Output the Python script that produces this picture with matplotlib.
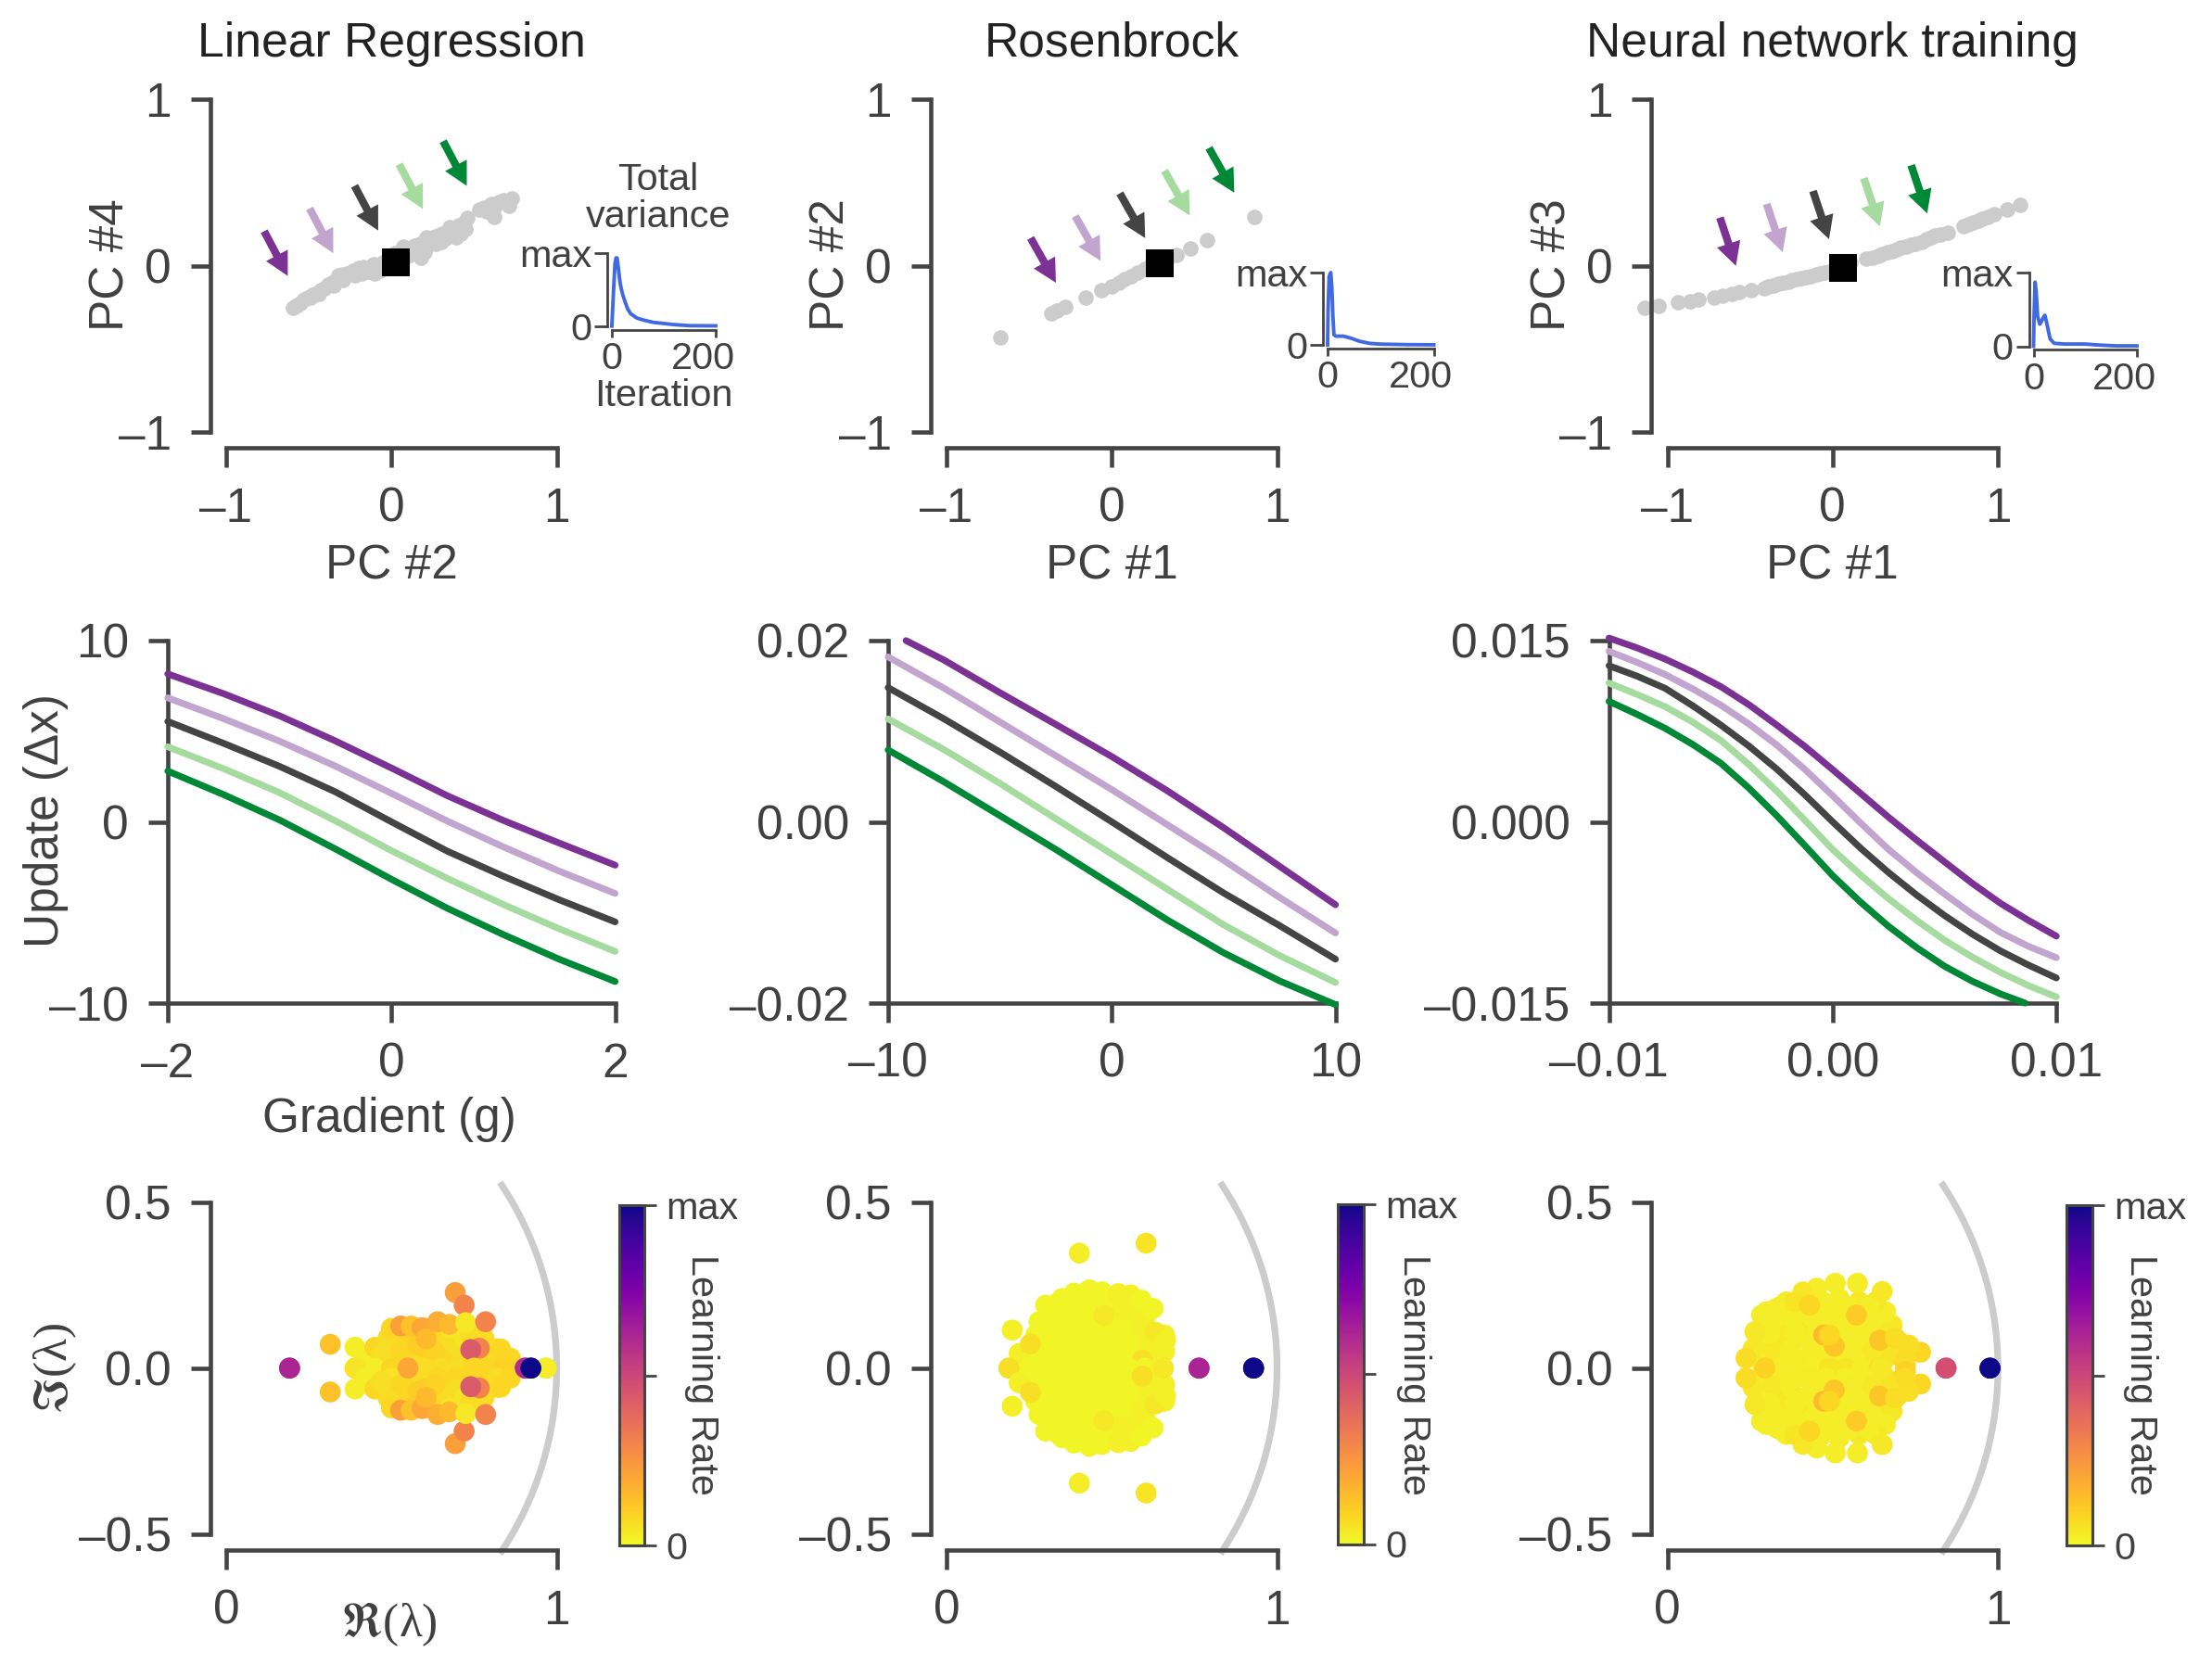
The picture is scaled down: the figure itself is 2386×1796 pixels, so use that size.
import matplotlib
matplotlib.use("Agg")
import matplotlib.pyplot as plt
import matplotlib.transforms as mtransforms
from matplotlib.cm import ScalarMappable
from matplotlib.colors import Normalize
import numpy as np

W, H, DPI = 2386, 1796, 200
DARK = "#444444"
TXT = "#404040"
plt.rcParams["font.family"] = ["Liberation Sans", "DejaVu Sans"]
plt.rcParams["font.size"] = 18.5
plt.rcParams["text.color"] = TXT
plt.rcParams["axes.labelcolor"] = TXT

# ---------- data ----------
titles = ["Linear Regression", "Rosenbrock", "Neural network training"]
pc_xlabels = ["PC #2", "PC #1", "PC #1"]
pc_ylabels = ["PC #4", "PC #2", "PC #3"]
line_colors = ["#7b3294", "#c2a5cf", "#444444", "#a6dba0", "#008837"]

lr_x = [-.595,-.58,-.57,-.55,-.53,-.505,-.49,-.48,-.46,-.43,-.405,-.38,-.36,-.34,-.32,-.30,-.27,-.25,-.23,-.2,-.17,-.14,-.1,-.08,-.05,-.02,0,.03,.06,.09,.12,.15,.18,.18,.2,.22,.25,.27,.3,.33,.36,.39,.42,.45,.46,.533,.562,.62,.606,.65,.577,.62,.68,.729,.709,
        -.44,-.35,-.29,-.22,-.15,-.12,-.06,-.03,.01,.05,.1,.14,.17,.21,.24,.28,.31,.35,.38,.41,.44,-.18,-.11,-.07,-.04,.02,.07]
lr_y = [-.255,-.245,-.235,-.225,-.205,-.195,-.19,-.175,-.17,-.15,-.135,-.115,-.105,-.09,-.06,-.055,-.045,-.05,-.03,-.015,-.01,-.035,-.05,0,.02,.05,.06,.03,.09,.1,.07,.1,.05,.09,.08,.12,.17,.13,.14,.165,.2,.17,.195,.22,.285,.337,.349,.292,.371,.383,.326,.35,.394,.405,.36,
        -.17,-.12,-.085,-.06,-.025,.0,-.02,.03,.02,.07,.06,.12,.13,.17,.15,.18,.19,.23,.22,.24,.26,-.05,.01,-.03,.0,.075,.115]
rb_x = [-.673,-.364,-.332,-.284,-.156,-.065,0,.043,.077,.114,.156,.2,.241,.284,.34,.389,.477,.577,.864]
rb_y = [-.43,-.289,-.271,-.251,-.194,-.148,-.123,-.103,-.08,-.062,-.043,-.02,.007,.03,.048,.064,.105,.155,.292]
nn_x = [-1.14,-1.056,-.938,-.86,-.81,-.714,-.664,-.613,-.566,-.49,-.412,-.356,-.3,-.244,-.188,-.132,-.076,-.02,.036,.106,.204,.275,.331,.387,.443,.499,.541,.597,.653,.695,.793,.849,.905,.975,1.053,1.132,-.39,-.33,-.27,-.22,-.16,-.1,-.05,.24,.3,.36,.41,.47,.57,.62,.82,.88,.94]
nn_y = [-.255,-.244,-.223,-.214,-.205,-.191,-.182,-.171,-.159,-.148,-.134,-.118,-.103,-.089,-.075,-.062,-.048,-.034,-.011,.018,.041,.059,.08,.098,.116,.132,.144,.171,.189,.2,.235,.257,.28,.308,.337,.364,-.128,-.11,-.096,-.082,-.068,-.055,-.041,.05,.07,.089,.107,.124,.158,.18,.246,.268,.294]
square_x = [.026, .29, .064]
square_y = [.018, .014, -.016]

lr_arrow_tip_x = [-.627,-.352,-.08,.19,.456]
lr_arrow_tip_y = [-.062,.075,.211,.341,.48]
rb_arrow_tip_x = [-.338,-.068,.202,.472,.741]
rb_arrow_tip_y = [-.103,.029,.166,.302,.439]
nn_arrow_tip_x = [-.585,-.302,-.022,.286,.572]
nn_arrow_tip_y = [-.001,.081,.159,.236,.314]
arrow_dx = [-.143, -.153, -.097]
arrow_dy = [.269, .269, .29]

lr_var_t = [0,3,6,8,10,12,16,20,24,30,36,48,59,80,100,119,150,200]
lr_var_v = [0,.45,.85,.93,.93,.82,.58,.45,.36,.24,.17,.11,.085,.05,.035,.02,.005,.003]
rb_var_t = [0,1,3,6,8,10,12,16,30,45,60,80,100,150,200]
rb_var_v = [0,.5,.95,1.0,.8,.4,.14,.12,.12,.09,.05,.02,.01,.003,.001]
nn_var_t = [0,1,3,5,8,12,15,18,22,26,32,40,60,100,130,160,200]
nn_var_v = [0,.4,.87,.75,.4,.3,.33,.38,.42,.3,.1,.04,.03,.03,.015,.005,.005]

g1 = [-2,-1.5,-1,-.5,0,.5,1,1.5,2]
u1 = [[8.16,7.07,5.85,4.46,2.97,1.44,.08,-1.17,-2.39],
      [6.84,5.69,4.45,3.07,1.57,.04,-1.38,-2.72,-3.95],
      [5.54,4.33,3.06,1.65,0,-1.62,-3.0,-4.3,-5.52],
      [4.14,2.93,1.61,.05,-1.59,-3.12,-4.56,-5.9,-7.15],
      [2.8,1.5,.1,-1.5,-3.17,-4.77,-6.22,-7.58,-8.81]]
g2 = [-10,-7.5,-5,-2.5,0,2.5,5,7.5,10]
g2_purple = [-9.2,-7.5,-5,-2.5,0,2.5,5,7.5,10]
u2 = [[.02,.01785,.01425,.01075,.0072,.0034,-.00065,-.0049,-.00915],
      [.0182,.01475,.01102,.00729,.00356,-.00034,-.00424,-.00834,-.01227],
      [.01481,.01136,.0077,.0039,0,-.00397,-.00785,-.01145,-.01515],
      [.01136,.00797,.00424,.00034,-.00356,-.00746,-.01136,-.01475,-.01773],
      [.00793,.00441,.00068,-.00305,-.00695,-.01085,-.01445,-.01755,-.02017]]
g3 = [-.01,-.00875,-.0075,-.00625,-.005,-.00375,-.0025,-.00125,0,.00125,.0025,.00375,.005,.00625,.0075,.00875,.01]
g3_green = [-.01,-.00875,-.0075,-.00625,-.005,-.00375,-.0025,-.00125,0,.00125,.0025,.00375,.005,.00625,.0075,.0086]
u3 = [[.01521,.01440,.01348,.01240,.01119,.00970,.00801,.00625,.00432,.00235,.00038,-.00150,-.00331,-.00510,-.00674,-.00815,-.00946],
      [.01411,.01320,.01220,.01100,.00966,.00810,.00636,.00435,.00216,-.00010,-.00229,-.00420,-.00597,-.00765,-.00915,-.01030,-.01124],
      [.01292,.01206,.01106,.00960,.00801,.00628,.00437,.00225,0,-.00218,-.0042,-.00605,-.00775,-.0093,-.01068,-.01185,-.01292],
      [.01149,.01055,.00954,.00825,.00674,.00475,.00254,.00015,-.00229,-.00440,-.00636,-.00815,-.00979,-.01120,-.01246,-.01355,-.01449],
      [.00997,.00890,.00775,.00640,.00485,.00280,.00051,-.00195,-.00445,-.00665,-.00865,-.01040,-.01195,-.01320,-.01424,-.0150]]

u_yticks = [[-10,0,10],[-.02,0,.02],[-.015,0,.015]]
u_ylabels = [["\u201310","0","10"],["\u20130.02","0.00","0.02"],["\u20130.015","0.000","0.015"]]
u_xticks = [[-2,0,2],[-10,0,10],[-.01,0,.01]]
u_xlabels = [["\u20132","0","2"],["\u201310","0","10"],["\u20130.01","0.00","0.01"]]

# eigenvalues, upper half plane: real, imag, learning rate colour
lr_re = [.39,.45,.50,.60,.65,.70,.75,.80,.84,.42,.5,.58,.64,.7,.76,.82,.86,.39,.45,.5,.55,.6,.65,.7,.77,.82,.83,.49,.55,.6,.66,.72,.78,.5,.56,.62,.68,.47,.53,.58,.63,.74,.55,.315,.528,.56,.593,.605,.64,.675,.693,.72,.725,.785,.766,.74,.968,.192,.905,.922]
lr_im = [0,0,0,0,0,0,0,0,0,.03,.03,.03,.03,.03,.03,.03,.03,.063,.063,.063,.063,.063,.063,.063,.063,.058,.058,.09,.09,.09,.09,.09,.09,.12,.12,.12,.12,.04,.05,.07,.05,.1,0,.072,.127,.127,.122,.088,.14,.132,.228,.19,.137,.14,.06,.056,0,0,0,0]
lr_c  = [.05,.03,.08,.07,.07,.07,.08,.08,.09,.03,.05,.07,.08,.08,.08,.07,.08,.03,.08,.07,.08,.1,.08,.07,.08,.07,.08,.07,.08,.12,.07,.05,.07,.08,.1,.08,.05,.06,.08,.1,.09,.07,.2,.13,.22,.13,.2,.15,.18,.15,.22,.3,.04,.3,.3,.43,.03,.62,.6,1.0]

rb_re = [.25,.3,.35,.4,.45,.5,.55,.6,.65,.24,.3,.35,.4,.45,.5,.55,.6,.66,.27,.32,.37,.42,.47,.52,.57,.62,.66,.3,.35,.4,.45,.5,.55,.6,.34,.39,.44,.49,.54,.58,
         .275,.325,.375,.425,.475,.525,.575,.625,.26,.31,.36,.41,.46,.51,.56,.61,.64,.29,.34,.39,.44,.49,.54,.59,.33,.38,.43,.48,.53,.57,
         .189,.199,.22,.254,.28,.30,.35,.386,.432,.47,.52,.557,.59,.625,.632,.663,.656,.592,.476,.402,.604,.764,.929]
rb_im = [0,0,0,0,0,0,0,0,0,.05,.05,.05,.05,.05,.05,.05,.05,.05,.1,.1,.1,.1,.1,.1,.1,.1,.1,.15,.15,.15,.15,.15,.15,.15,.2,.2,.2,.2,.2,.2,
         .025,.025,.025,.025,.025,.025,.025,.025,.075,.075,.075,.075,.075,.075,.075,.075,.075,.125,.125,.125,.125,.125,.125,.125,.175,.175,.175,.175,.175,.175,
         0,.115,.044,.073,.14,.19,.21,.226,.236,.23,.225,.221,.205,.18,.108,.083,0,.024,.159,.347,.377,0,0]
rb_c  = [.01,.01,.01,.01,.01,.01,.01,.01,.02,.01,.01,.01,.01,.01,.01,.01,.01,.02,.01,.01,.01,.01,.01,.01,.02,.02,.02,.01,.01,.01,.01,.01,.02,.02,.01,.01,.01,.01,.02,.02,
         .01,.01,.01,.01,.01,.01,.01,.02,.01,.01,.01,.01,.01,.01,.01,.02,.02,.01,.01,.01,.01,.01,.01,.02,.01,.01,.01,.01,.02,.02,
         .06,.02,.02,.06,.01,.01,.01,.01,.01,.01,.02,.02,.01,.01,.04,.02,.04,.06,.04,.03,.05,.62,1.0]

nn_re = [.29,.34,.39,.44,.49,.54,.59,.64,.3,.36,.42,.48,.54,.6,.66,.71,.28,.33,.38,.43,.48,.54,.6,.65,.7,.27,.3,.35,.4,.46,.52,.58,.64,.68,.3,.35,.42,.48,.55,.6,.66,.36,.41,.47,.52,.58,.63,
         .26,.32,.37,.44,.51,.57,.62,.68,.31,.39,.45,.51,.57,.62,.67,.33,.38,.44,.5,.56,.61,.34,.44,.5,.55,.61,
         .238,.295,.766,.508,.575,.65,.452,.41,.385,.285,.33,.265,.43,.473,.505,.572,.642,.72,.69,.73,.72,.647,.49,.843,.976]
nn_im = [0,0,0,0,0,0,0,0,.03,.03,.03,.03,.03,.03,.03,.03,.08,.08,.08,.08,.08,.08,.08,.08,.08,.11,.13,.13,.13,.13,.13,.13,.13,.13,.17,.17,.17,.17,.17,.17,.17,.2,.21,.2,.21,.2,.2,
         .06,.055,.055,.055,.055,.055,.055,.055,.105,.105,.105,.105,.105,.105,.105,.15,.15,.15,.15,.15,.15,.185,.185,.185,.185,.185,
         .03,0,.048,.256,.256,.231,.241,.23,.2,.16,.18,.11,.19,.1,.066,.16,.084,.01,.09,.07,.03,0,.1,0,0]
nn_c  = [.03,.03,.03,.02,.05,.05,.03,.06,.03,.03,.03,.03,.02,.03,.05,.07,.03,.04,.04,.03,.03,.02,.03,.04,.05,.04,.03,.04,.04,.03,.03,.05,.03,.04,.03,.03,.03,.03,.04,.04,.03,.03,.04,.03,.03,.04,.04,
         .04,.04,.03,.03,.03,.03,.04,.05,.03,.03,.03,.02,.03,.03,.04,.03,.03,.03,.03,.03,.03,.03,.03,.03,.03,.03,
         .07,.09,.08,.03,.03,.04,.03,.04,.05,.03,.03,.04,.08,.15,.12,.11,.12,.09,.07,.06,.07,.04,.08,.47,1.0]

cols_px = [0, 777, 1554.6]
PX = mtransforms.Affine2D().scale(1, -1).translate(0, H)

fig = plt.figure(figsize=(W / DPI, H / DPI), dpi=DPI, facecolor="white")


def axpx(x0, y0, x1, y1):
    return fig.add_axes([x0 / W, 1 - y1 / H, (x1 - x0) / W, (y1 - y0) / H], facecolor="none")


def style(ax, offset=None, lw=1.65, tl=7.6, pad=7.5, fs=18.5):
    for s in ("top", "right"):
        ax.spines[s].set_visible(False)
    for s in ("left", "bottom"):
        ax.spines[s].set_color(DARK)
        ax.spines[s].set_linewidth(lw)
        if offset:
            ax.spines[s].set_position(("outward", offset))
    ax.tick_params(length=tl, width=lw, color=DARK, labelcolor=TXT, labelsize=fs, pad=pad)


scat_x = [lr_x, rb_x, nn_x]
scat_y = [lr_y, rb_y, nn_y]
tip_x = [lr_arrow_tip_x, rb_arrow_tip_x, nn_arrow_tip_x]
tip_y = [lr_arrow_tip_y, rb_arrow_tip_y, nn_arrow_tip_y]
var_t = [lr_var_t, rb_var_t, nn_var_t]
var_v = [lr_var_v, rb_var_v, nn_var_v]
inset_boxes = [(660, 272.7, 772, 351.7), (1432, 294, 1546.6, 372), (2193.5, 294, 2305, 373.5)]
G = [g1, g2, g3]
U = [u1, u2, u3]
UL = [(-10, 10), (-.02, .02), (-.015, .015)]
eig = [(lr_re, lr_im, lr_c), (rb_re, rb_im, rb_c), (nn_re, nn_im, nn_c)]
cbar_boxes = [(667.5, 1300, 694.5, 1667), (1443, 1298.5, 1470.5, 1665.5), (2229, 1300, 2256.5, 1667)]
cbar_label_x = [757, 1525, 2309]

for i in range(3):
    dx = cols_px[i]
    cx = 422 + dx
    # row 1
    ax = axpx(243.9 + dx, 107.3, 600.5 + dx, 465.7)
    style(ax, offset=6.2)
    ax.set_xlim(-1, 1)
    ax.set_ylim(-1, 1)
    ax.set_xticks([-1, 0, 1], ["\u20131", "0", "1"])
    ax.set_yticks([-1, 0, 1], ["\u20131", "0", "1"])
    ax.scatter(scat_x[i], scat_y[i], s=36, c="#cccccc", lw=0, clip_on=False, zorder=1)
    ax.scatter([square_x[i]], [square_y[i]], s=117, marker="s", c="black", lw=0, zorder=3)
    for k in range(5):
        ax.annotate("", xy=(tip_x[i][k], tip_y[i][k]),
                    xytext=(tip_x[i][k] + arrow_dx[i], tip_y[i][k] + arrow_dy[i]),
                    arrowprops=dict(width=3.0, headwidth=9.5, headlength=9.0, shrink=0,
                                    facecolor=line_colors[k], edgecolor="none"), zorder=2)
    ax.set_title(titles[i], fontsize=18.6, color="#222222", pad=16.8, x=0.5)
    ax.set_xlabel(pc_xlabels[i], va="center")
    ax.xaxis.set_label_coords(cx, 611, transform=PX)
    ax.set_ylabel(pc_ylabels[i], va="center")
    ax.yaxis.set_label_coords(120 + dx, 286, transform=PX)

    # inset
    ib = inset_boxes[i]
    ins = axpx(*ib)
    style(ins, lw=1.0, tl=5, pad=1, fs=14.9)
    ins.spines["left"].set_position(("outward", 1.8))
    ins.spines["bottom"].set_position(("outward", 1.4))
    ins.tick_params(axis="x", length=3, pad=1.5)
    ins.set_xlim(0, 200)
    ins.set_ylim(0, 1)
    ins.set_xticks([0, 200], ["0", "200"])
    ins.set_yticks([0, 1], ["0", "max"])
    lab200 = ins.get_xticklabels()[1]
    lab200.set_transform(lab200.get_transform() +
                         mtransforms.ScaledTranslation(-14 / DPI, 0, fig.dpi_scale_trans))
    ins.plot(var_t[i], var_v[i], color="#4169e1", lw=1.4, clip_on=False, solid_joinstyle="round")
    if i == 0:
        ins.text(710, 214, "Total\nvariance", transform=PX, ha="center", va="center",
                 fontsize=14.9, linespacing=1.07)
        ins.set_xlabel("Iteration", fontsize=14.9, va="center")
        ins.xaxis.set_label_coords(716, 427, transform=PX)

    # row 2
    ax = axpx(181 + dx, 691, 663.5 + dx, 1082)
    style(ax)
    ax.set_xlim(G[i][0], G[i][-1])
    ax.set_ylim(*UL[i])
    ax.set_xticks(u_xticks[i], u_xlabels[i])
    ax.set_yticks(u_yticks[i], u_ylabels[i])
    for k in range(5):
        xs = G[i]
        if i == 1 and k == 0:
            xs = g2_purple
        if i == 2 and k == 4:
            xs = g3_green
        ax.plot(xs, U[i][k], color=line_colors[k], lw=2.6, clip_on=False,
                solid_capstyle="round", solid_joinstyle="round", zorder=3)
    if i == 0:
        ax.set_xlabel("Gradient (g)", va="center")
        ax.xaxis.set_label_coords(420, 1208, transform=PX)
        ax.set_ylabel("Update (\u0394x)", va="center")
        ax.yaxis.set_label_coords(50, 885, transform=PX)

    # row 3
    ax = axpx(243.9 + dx, 1297, 600.5 + dx, 1654.5)
    style(ax, offset=6.2)
    ax.set_xlim(0, 1)
    ax.set_ylim(-.5, .5)
    ax.set_xticks([0, 1], ["0", "1"])
    ax.set_yticks([-.5, 0, .5], ["\u20130.5", "0.0", "0.5"])
    theta = np.radians(np.arange(-33.5, 34, 0.5))
    ax.plot(np.cos(theta), np.sin(theta), color="#cccccc", lw=2.6, clip_on=False, zorder=1)
    re, im, c = map(np.asarray, eig[i])
    sc = ax.scatter(np.r_[re, re], np.r_[im, -im], c=np.r_[c, c], cmap="plasma_r",
                    vmin=0, vmax=1, s=66, lw=0, clip_on=False, zorder=2)
    if i == 0:
        ax.set_xlabel(r"$\Re$(λ)", va="center", math_fontfamily="stix", family="Liberation Serif")
        ax.xaxis.set_label_coords(420, 1752, transform=PX)
        ax.set_ylabel(r"$\Im$(λ)", va="center", math_fontfamily="stix", family="Liberation Serif")
        ax.yaxis.set_label_coords(60, 1476, transform=PX)

    cax = axpx(*cbar_boxes[i])
    cb = fig.colorbar(ScalarMappable(norm=Normalize(0, 1), cmap="plasma_r"), cax=cax, ticks=[0, .5, 1])
    cb.set_ticklabels(["0", "", "max"])
    cb.outline.set_edgecolor(DARK)
    cb.outline.set_linewidth(1.1)
    cax.tick_params(length=4.7, width=1.0, color=DARK, labelcolor=TXT, labelsize=14.9, pad=4)
    cb.set_label("Learning Rate", rotation=270, fontsize=14.9, va="center", color=TXT)
    cax.yaxis.set_label_coords(cbar_label_x[i], 1483, transform=PX)

fig.savefig("out.png", dpi=DPI, facecolor="white")
